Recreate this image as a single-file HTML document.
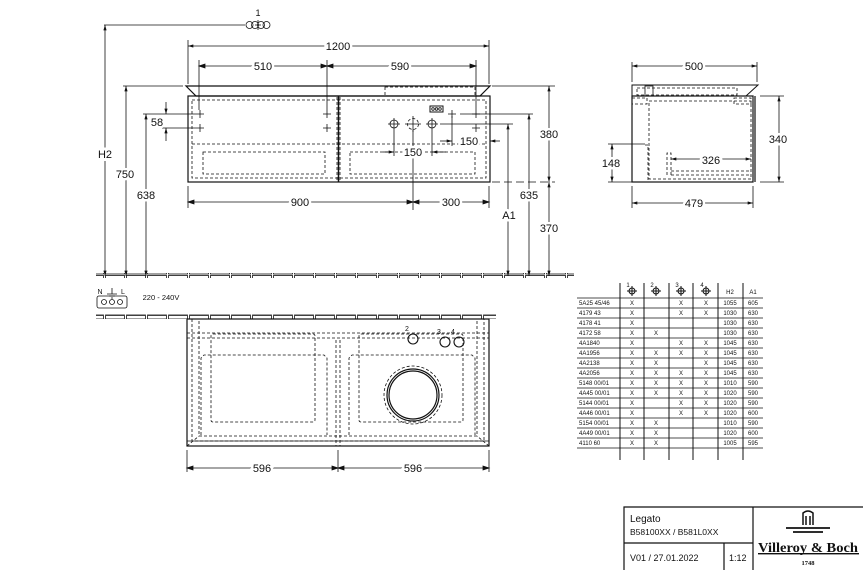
<!DOCTYPE html>
<html><head><meta charset="utf-8"><style>
body{margin:0;background:#fff}
svg{display:block;font-family:"Liberation Sans",sans-serif}
</style></head><body>
<svg width="863" height="570" viewBox="0 0 863 570" xmlns="http://www.w3.org/2000/svg">
<defs>
<marker id="a" viewBox="0 0 10 6" refX="10" refY="3" markerWidth="7" markerHeight="4" orient="auto-start-reverse"><path d="M0,0L10,3L0,6z" fill="#111"/></marker>
<pattern id="tiles" width="21" height="5" patternUnits="userSpaceOnUse"><rect x="0.5" y="0.5" width="19" height="3.5" fill="none" stroke="#111" stroke-width="0.8"/></pattern>
</defs>
<g stroke="#111" stroke-width="0.8" fill="none">
<rect x="96" y="273" width="478" height="5" fill="url(#tiles)" stroke="none"/>
<path d="M186,86 L490,86 L480,96 L196,96 Z" stroke-width="1.2"/>
<rect x="188" y="96" width="302" height="86" stroke-width="1.2"/>
<g stroke-dasharray="3,2">
<rect x="192" y="100" width="294" height="78"/>
<line x1="192" y1="144" x2="486" y2="144"/>
<rect x="203" y="152" width="122" height="22"/>
<rect x="350" y="152" width="125" height="22"/>
<line x1="337" y1="97" x2="337" y2="182"/><line x1="340" y1="97" x2="340" y2="182"/>
<rect x="385" y="87" width="90" height="9"/>
</g>
<line x1="338.5" y1="96" x2="338.5" y2="182" stroke-width="1.5"/>
<rect x="430" y="106" width="13" height="6" stroke-width="1"/>
<circle cx="433" cy="109" r="1.3"/><circle cx="436.5" cy="109" r="1.3"/><circle cx="440" cy="109" r="1.3"/>
<circle cx="394" cy="124" r="4"/><circle cx="413" cy="124" r="5.5" stroke-dasharray="3,2"/><circle cx="432" cy="124" r="4"/>
<path d="M388,124h12M394,118v12M405,124h16M413,116v16M426,124h12M432,118v12"/>
<path d="M196,114h8M200,110v8M196,128h8M200,124v8M323,114h8M327,110v8M323,128h8M327,124v8M472,114h8M476,110v8M472,128h8M476,124v8M448,114h8M452,110v8"/>
<line x1="104" y1="25" x2="245" y2="25"/>
<line x1="105" y1="25" x2="105" y2="276" marker-start="url(#a)" marker-end="url(#a)"/>
<line x1="123" y1="86" x2="183" y2="86"/>
<line x1="126" y1="86" x2="126" y2="276" marker-start="url(#a)" marker-end="url(#a)"/>
<line x1="143" y1="114" x2="196" y2="114"/>
<line x1="146" y1="114" x2="146" y2="276" marker-start="url(#a)" marker-end="url(#a)"/>
<line x1="162" y1="128" x2="196" y2="128"/>
<line x1="166" y1="102" x2="166" y2="114" marker-end="url(#a)"/><line x1="166" y1="141" x2="166" y2="128" marker-end="url(#a)"/>
<line x1="188" y1="40" x2="188" y2="84"/><line x1="489" y1="40" x2="489" y2="84"/>
<line x1="188" y1="46" x2="489" y2="46" marker-start="url(#a)" marker-end="url(#a)"/>
<line x1="199" y1="60" x2="199" y2="110"/><line x1="327" y1="60" x2="327" y2="110"/><line x1="476" y1="60" x2="476" y2="110"/>
<line x1="199" y1="66" x2="476" y2="66"/>
<path d="M199,66l6,-2v4z M327,66l-6,-2v4z M327,66l6,-2v4z M476,66l-6,-2v4z" fill="#111"/>
<line x1="188" y1="186" x2="188" y2="208"/><line x1="489" y1="186" x2="489" y2="208"/><line x1="413" y1="130" x2="413" y2="210"/>
<line x1="188" y1="202" x2="489" y2="202"/>
<path d="M188,202l6,-2v4z M413,202l-6,-2v4z M413,202l6,-2v4z M489,202l-6,-2v4z" fill="#111"/>
<line x1="394" y1="130" x2="394" y2="156"/><line x1="432" y1="130" x2="432" y2="156"/>
<line x1="383" y1="152" x2="394" y2="152" marker-end="url(#a)"/><line x1="446" y1="152" x2="432" y2="152" marker-end="url(#a)"/>
<line x1="452" y1="116" x2="452" y2="146"/>
<line x1="440" y1="141" x2="452" y2="141" marker-end="url(#a)"/><line x1="500" y1="141" x2="490" y2="141" marker-end="url(#a)"/>
<line x1="460" y1="114" x2="533" y2="114"/><line x1="440" y1="124" x2="513" y2="124"/>
<line x1="492" y1="86" x2="555" y2="86"/>
<line x1="492" y1="182" x2="555" y2="182" stroke-dasharray="8,4"/>
<line x1="549" y1="86" x2="549" y2="182" marker-start="url(#a)" marker-end="url(#a)"/>
<line x1="549" y1="182" x2="549" y2="276" marker-start="url(#a)" marker-end="url(#a)"/>
<line x1="529" y1="114" x2="529" y2="276" marker-start="url(#a)" marker-end="url(#a)"/>
<line x1="508" y1="124" x2="508" y2="276" marker-start="url(#a)" marker-end="url(#a)"/>
<g transform="translate(258,25)"><circle cx="-8.5" cy="0" r="3.5"/><circle cx="-3" cy="0" r="3.5"/><circle cx="3" cy="0" r="3.5"/><circle cx="8.5" cy="0" r="3.5"/><path d="M0,-5v10M-3,0h6"/></g>

<path d="M632,85 L758,85 L746,96 L632,96 Z" stroke-width="1"/>
<rect x="632" y="96" width="121" height="86" stroke-width="1.2"/>
<line x1="755" y1="96" x2="755" y2="182" stroke-width="1.2"/>
<g stroke-dasharray="3,2">
<rect x="649" y="101" width="102" height="78"/>
<rect x="637" y="88" width="100" height="7"/>
<rect x="632" y="98" width="15" height="6"/>
<rect x="734" y="98" width="17" height="6"/>
<path d="M667,175 L667,153 L671,153 L671,175 M671,171 L751,171 M671,175 L751,175"/>
<path d="M645,145 L648,145 L648,182"/>
</g>
<rect x="645" y="86" width="8" height="10"/>
<line x1="632" y1="62" x2="632" y2="82"/><line x1="757" y1="62" x2="757" y2="82"/>
<line x1="632" y1="66" x2="757" y2="66" marker-start="url(#a)" marker-end="url(#a)"/>
<line x1="632" y1="186" x2="632" y2="208"/><line x1="753" y1="186" x2="753" y2="208"/>
<line x1="632" y1="203" x2="753" y2="203" marker-start="url(#a)" marker-end="url(#a)"/>
<line x1="760" y1="96" x2="784" y2="96"/><line x1="760" y1="182" x2="784" y2="182"/>
<line x1="779" y1="96" x2="779" y2="182" marker-start="url(#a)" marker-end="url(#a)"/>
<line x1="608" y1="144" x2="645" y2="144"/><line x1="608" y1="182" x2="632" y2="182"/>
<line x1="612" y1="144" x2="612" y2="182" marker-start="url(#a)" marker-end="url(#a)"/>
<line x1="671" y1="159" x2="751" y2="159" marker-start="url(#a)" marker-end="url(#a)"/>

<rect x="96" y="314" width="400" height="5" fill="url(#tiles)" stroke="none"/>
<rect x="97" y="296" width="30" height="12" rx="2"/>
<circle cx="104" cy="302" r="2.5"/><circle cx="112" cy="302" r="2.5"/><circle cx="120" cy="302" r="2.5"/>
<path d="M112,288v6M107,294h10M109,296h6M111,298h2"/>
<rect x="187" y="319" width="302" height="127" stroke-width="1.2"/>
<line x1="187" y1="441" x2="489" y2="441"/>
<g stroke-dasharray="3,2">
<rect x="192" y="319" width="292" height="122"/>
<rect x="199" y="319" width="278" height="117"/>
<line x1="187" y1="333" x2="489" y2="333"/><line x1="187" y1="338" x2="489" y2="338"/>
<rect x="211" y="334" width="104" height="88" rx="2"/>
<rect x="359" y="334" width="104" height="88" rx="2"/>
<path d="M201,435 L201,358 L204,355 L324,355 L327,358 L327,435"/>
<path d="M349,435 L349,358 L352,355 L472,355 L475,358 L475,435"/>
<line x1="336" y1="340" x2="336" y2="446"/><line x1="340" y1="340" x2="340" y2="446"/>
<circle cx="413" cy="395" r="29"/>
<path d="M187,446 L199,436 M489,446 L477,436"/>
</g>
<circle cx="413" cy="395" r="26" stroke-width="1.2"/><circle cx="413" cy="395" r="24" stroke-width="1.2"/>
<circle cx="413" cy="339" r="5" stroke-width="1.1"/>
<circle cx="445" cy="342" r="5" stroke-width="1.1"/>
<circle cx="459" cy="342" r="5" stroke-width="1.1"/>
<line x1="187" y1="450" x2="187" y2="472"/><line x1="338" y1="450" x2="338" y2="472"/><line x1="489" y1="450" x2="489" y2="472"/>
<line x1="187" y1="468" x2="489" y2="468"/>
<path d="M187,468l6,-2v4z M338,468l-6,-2v4z M338,468l6,-2v4z M489,468l-6,-2v4z" fill="#111"/>

<g stroke-width="1">
<line x1="620" y1="283" x2="620" y2="460"/><line x1="644" y1="283" x2="644" y2="460"/><line x1="669" y1="283" x2="669" y2="460"/><line x1="693" y1="283" x2="693" y2="460"/><line x1="718" y1="283" x2="718" y2="460"/><line x1="743" y1="283" x2="743" y2="460"/>
</g>
<g stroke-width="0.7">
<line x1="577" y1="298" x2="763" y2="298"/><line x1="577" y1="308" x2="763" y2="308"/><line x1="577" y1="318" x2="763" y2="318"/><line x1="577" y1="328" x2="763" y2="328"/><line x1="577" y1="338" x2="763" y2="338"/><line x1="577" y1="348" x2="763" y2="348"/><line x1="577" y1="358" x2="763" y2="358"/><line x1="577" y1="368" x2="763" y2="368"/><line x1="577" y1="378" x2="763" y2="378"/><line x1="577" y1="388" x2="763" y2="388"/><line x1="577" y1="398" x2="763" y2="398"/><line x1="577" y1="408" x2="763" y2="408"/><line x1="577" y1="418" x2="763" y2="418"/><line x1="577" y1="428" x2="763" y2="428"/><line x1="577" y1="438" x2="763" y2="438"/><line x1="577" y1="448" x2="763" y2="448"/>
</g>
<g stroke-width="1"><circle cx="632" cy="291" r="3"/><circle cx="656" cy="291" r="3"/><circle cx="681" cy="291" r="3"/><circle cx="706" cy="291" r="3"/>
<path d="M627,291h10M632,286v10M651,291h10M656,286v10M676,291h10M681,286v10M701,291h10M706,286v10"/></g>

<g stroke-width="1.2"><path d="M624,570 L624,507 L863,507 M753,507 L753,570 M624,543 L753,543 M724,543 L724,570"/></g>
<path d="M803,525 L803,513 Q808,509 813,513 L813,525 M806,525v-9M810,525v-9" stroke-width="1.5"/>
<path d="M786,528 h44 M793,532 h30" stroke-width="1.8"/>
</g>

<g fill="#111" font-size="11" text-anchor="middle">
<text x="258" y="16" font-size="9">1</text>
<text x="105" y="158" fill="#fff" stroke="#fff" stroke-width="6">H2</text><text x="105" y="158">H2</text>
<g paint-order="stroke" stroke="#fff" stroke-width="5">
<text x="125" y="178">750</text>
<text x="146" y="199">638</text>
<text x="157" y="126">58</text>
<text x="338" y="50">1200</text>
<text x="263" y="70">510</text>
<text x="400" y="70">590</text>
<text x="300" y="206">900</text>
<text x="451" y="206">300</text>
<text x="413" y="156">150</text>
<text x="469" y="145">150</text>
<text x="549" y="138">380</text>
<text x="549" y="232">370</text>
<text x="529" y="199">635</text>
<text x="509" y="219">A1</text>
<text x="694" y="70">500</text>
<text x="694" y="207">479</text>
<text x="778" y="143">340</text>
<text x="611" y="167">148</text>
<text x="711" y="164">326</text>
<text x="262" y="472">596</text>
<text x="413" y="472">596</text>
</g>
<g font-size="7"><text x="407" y="331">2</text><text x="439" y="334">3</text><text x="453" y="334">4</text>
<text x="100" y="294">N</text><text x="123" y="294">L</text></g>
<text x="161" y="300" font-size="7.5">220 - 240V</text>
<g font-size="6">
<text x="628" y="287">1</text><text x="652" y="287">2</text><text x="677" y="287">3</text><text x="702" y="287">4</text>
<text x="730" y="294">H2</text><text x="753" y="294">A1</text>
</g>
<g font-size="6" text-anchor="start">
<text x="579" y="305">5A25 45/46</text><text x="579" y="315">4179 43</text><text x="579" y="325">4178 41</text><text x="579" y="335">4172 58</text><text x="579" y="345">4A1840</text><text x="579" y="355">4A1956</text><text x="579" y="365">4A2138</text><text x="579" y="375">4A2056</text><text x="579" y="385">5148 00/01</text><text x="579" y="395">4A45 00/01</text><text x="579" y="405">5144 00/01</text><text x="579" y="415">4A46 00/01</text><text x="579" y="425">5154 00/01</text><text x="579" y="435">4A49 00/01</text><text x="579" y="445">4110 60</text>
</g>
<g font-size="6">
<text x="632" y="305">X</text><text x="681" y="305">X</text><text x="706" y="305">X</text><text x="730" y="305">1055</text><text x="753" y="305">605</text>
<text x="632" y="315">X</text><text x="681" y="315">X</text><text x="706" y="315">X</text><text x="730" y="315">1030</text><text x="753" y="315">630</text>
<text x="632" y="325">X</text><text x="730" y="325">1030</text><text x="753" y="325">630</text>
<text x="632" y="335">X</text><text x="656" y="335">X</text><text x="730" y="335">1030</text><text x="753" y="335">630</text>
<text x="632" y="345">X</text><text x="681" y="345">X</text><text x="706" y="345">X</text><text x="730" y="345">1045</text><text x="753" y="345">630</text>
<text x="632" y="355">X</text><text x="656" y="355">X</text><text x="681" y="355">X</text><text x="706" y="355">X</text><text x="730" y="355">1045</text><text x="753" y="355">630</text>
<text x="632" y="365">X</text><text x="656" y="365">X</text><text x="706" y="365">X</text><text x="730" y="365">1045</text><text x="753" y="365">630</text>
<text x="632" y="375">X</text><text x="656" y="375">X</text><text x="681" y="375">X</text><text x="706" y="375">X</text><text x="730" y="375">1045</text><text x="753" y="375">630</text>
<text x="632" y="385">X</text><text x="656" y="385">X</text><text x="681" y="385">X</text><text x="706" y="385">X</text><text x="730" y="385">1010</text><text x="753" y="385">590</text>
<text x="632" y="395">X</text><text x="656" y="395">X</text><text x="681" y="395">X</text><text x="706" y="395">X</text><text x="730" y="395">1020</text><text x="753" y="395">590</text>
<text x="632" y="405">X</text><text x="681" y="405">X</text><text x="706" y="405">X</text><text x="730" y="405">1020</text><text x="753" y="405">590</text>
<text x="632" y="415">X</text><text x="681" y="415">X</text><text x="706" y="415">X</text><text x="730" y="415">1020</text><text x="753" y="415">600</text>
<text x="632" y="425">X</text><text x="656" y="425">X</text><text x="730" y="425">1010</text><text x="753" y="425">590</text>
<text x="632" y="435">X</text><text x="656" y="435">X</text><text x="730" y="435">1020</text><text x="753" y="435">600</text>
<text x="632" y="445">X</text><text x="656" y="445">X</text><text x="730" y="445">1005</text><text x="753" y="445">595</text>
</g>
<g text-anchor="start">
<text x="630" y="522" font-size="10">Legato</text>
<text x="630" y="535" font-size="8.5">B58100XX / B581L0XX</text>
<text x="630" y="561" font-size="9">V01 / 27.01.2022</text>
<text x="729" y="561" font-size="9">1:12</text>
</g>
<text x="808" y="552" font-family="Liberation Serif,serif" font-weight="bold" font-size="14" textLength="100" lengthAdjust="spacingAndGlyphs">Villeroy &amp; Boch</text>
<rect x="758" y="553" width="101" height="1.4"/>
<text x="808" y="565" font-family="Liberation Serif,serif" font-weight="bold" font-size="6.5">1748</text>
</g>
</svg>
</body></html>
